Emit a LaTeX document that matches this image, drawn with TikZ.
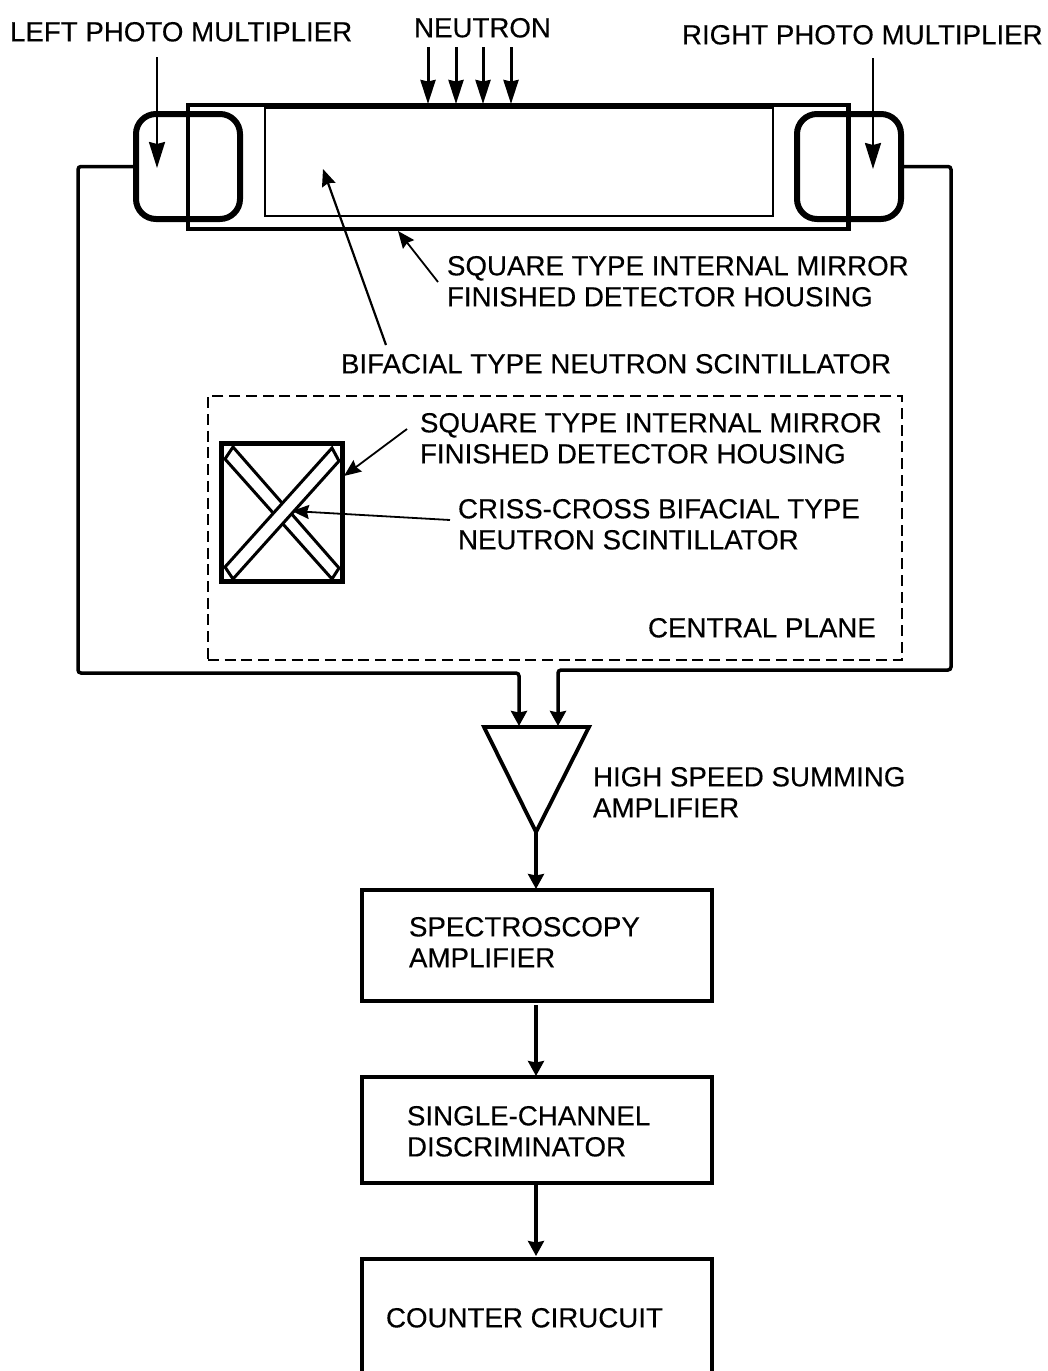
\documentclass[tikz,border=0pt]{standalone}
\usepackage{fontspec}
\setmainfont{Liberation Sans}[RawFeature={embolden=0.3}]
\usetikzlibrary{arrows.meta}
\tikzset{
  lbl/.style={anchor=north west,inner sep=0pt,outer sep=0pt,align=left,font=\fontsize{27.7}{31}\selectfont},
  pmt/.style={draw,line width=6pt,rounded corners=20pt,minimum width=104pt,minimum height=105pt,inner sep=0pt,outer sep=0pt},
  blockbox/.style={draw,line width=3.2pt,minimum width=350pt,inner sep=0pt,outer sep=0pt},
  wire/.style={line width=3.5pt,rounded corners=3pt,-{Stealth[length=15pt,width=16pt,inset=1.5pt]}},
  sig/.style={line width=3.2pt,-{Stealth[length=15pt,width=16pt,inset=1.5pt]}},
  pointer/.style={line width=2.2pt,-{Stealth[length=26pt,width=16pt,inset=2pt]}},
  thinptr/.style={line width=1.8pt,-{Stealth[length=17pt,width=14pt,inset=2pt]}},
  neutronarrow/.style={line width=3pt,-{Stealth[length=24pt,width=15pt,inset=1.5pt]}},
  bar/.style={draw,fill=white,line width=3pt,line join=miter},
}
\begin{document}
\begin{tikzpicture}[x=1pt,y=-1pt]
\useasboundingbox (0,0) rectangle (1047,1371);
% detector housing
\node[draw,line width=4pt,minimum width=661pt,minimum height=124pt,inner sep=0pt,outer sep=0pt] (housing) at (518,166.5) {};
\node[draw,line width=2pt,minimum width=508pt,minimum height=108pt,inner sep=0pt,outer sep=0pt] (scint) at (519,162) {};
\node[pmt] (pmL) at (188,166.5) {};
\node[pmt] (pmR) at (849,166.5) {};
\draw[line width=4pt] (188,104) -- (188,229);
\draw[line width=4pt] (848,104) -- (848,229);
% labels
\node[lbl] (tL) at (10,22) {LEFT PHOTO MULTIPLIER};
\node[lbl] (tN) at (414,18) {NEUTRON};
\node[lbl] (tR) at (682,25) {RIGHT PHOTO MULTIPLIER};
\node[lbl] (tH) at (447,256) {SQUARE TYPE INTERNAL MIRROR\\FINISHED DETECTOR HOUSING};
\node[lbl] (tB) at (341,354) {BIFACIAL TYPE NEUTRON SCINTILLATOR};
\node[lbl] (tH2) at (420,413) {SQUARE TYPE INTERNAL MIRROR\\FINISHED DETECTOR HOUSING};
\node[lbl] (tC) at (458,499) {CRISS-CROSS BIFACIAL TYPE\\NEUTRON SCINTILLATOR};
\node[lbl] (tP) at (648,618) {CENTRAL PLANE};
\node[lbl] (tS) at (593,767) {HIGH SPEED SUMMING\\AMPLIFIER};
% central plane
\node[draw,dashed,dash pattern=on 11pt off 5.7pt,line width=2.5pt,minimum width=694pt,minimum height=264pt,inner sep=0pt,outer sep=0pt] (plane) at (555,528) {};
\node[draw,line width=5pt,minimum width=121pt,minimum height=138pt,inner sep=0pt,outer sep=0pt] (sq) at (282,512.5) {};
\filldraw[bar] (225,459) -- (233,447) -- (339,568) -- (332,579) -- cycle;
\filldraw[bar] (225,567) -- (332,448) -- (339,461) -- (233,579) -- cycle;
% amplifier
\coordinate (ampA) at (484,727);
\coordinate (ampB) at (589,727);
\coordinate (ampC) at (536,832);
\draw[line width=3.8pt,line join=miter] (ampA) -- (ampB) -- (ampC) -- cycle;
% wires
\coordinate (inA) at (519,726);
\coordinate (inB) at (558,726);
\draw[wire] (pmL.west) -- (78,166.5) -- (78,673) -- (519,673) -- (inA);
\draw[wire] (pmR.east) -- (951,166.5) -- (951,670) -- (558,670) -- (inB);
% blocks
\node[blockbox,minimum height=111pt] (spec) at (537,945.5) {};
\node[lbl] (tSp) at (409,917) {SPECTROSCOPY\\AMPLIFIER};
\node[blockbox,minimum height=106pt] (disc) at (537,1130) {};
\node[lbl] (tD) at (407,1106) {SINGLE-CHANNEL\\DISCRIMINATOR};
\coordinate (cTL) at (362,1259);
\coordinate (cTR) at (712,1259);
\coordinate (cTop) at (536,1256);
\draw[line width=3.2pt] (362,1375) -- (cTL) -- (cTR) -- (712,1375);
\node[lbl] (tCo) at (386,1308) {COUNTER CIRUCUIT};
\coordinate (specTop) at (536,889);
\coordinate (specBot) at (536,1005);
\coordinate (discTop) at (536,1076);
\coordinate (discBot) at (536,1183);
\draw[sig] (ampC) -- (specTop);
\draw[sig] (specBot) -- (discTop);
\draw[sig] (discBot) -- (cTop);
% neutron arrows
\foreach \x in {428,456,483,511}{\draw[neutronarrow] (\x,47) -- (\x,104);}
% pointers
\coordinate (ptL) at (157,168);
\coordinate (ptR) at (873,169);
\draw[pointer] (157,57) -- (ptL);
\draw[pointer] (873,58) -- (ptR);
\coordinate (ptS) at (323,169);
\draw[thinptr,line width=2.2pt] (386,345) -- (ptS);
\coordinate (ptH) at (398,231);
\draw[thinptr] (438,282) -- (ptH);
\coordinate (ptH2) at (344,476);
\draw[thinptr] (407,429) -- (ptH2);
\coordinate (ptC) at (292,511);
\draw[thinptr] (450,520) -- (ptC);
\end{tikzpicture}
\end{document}
